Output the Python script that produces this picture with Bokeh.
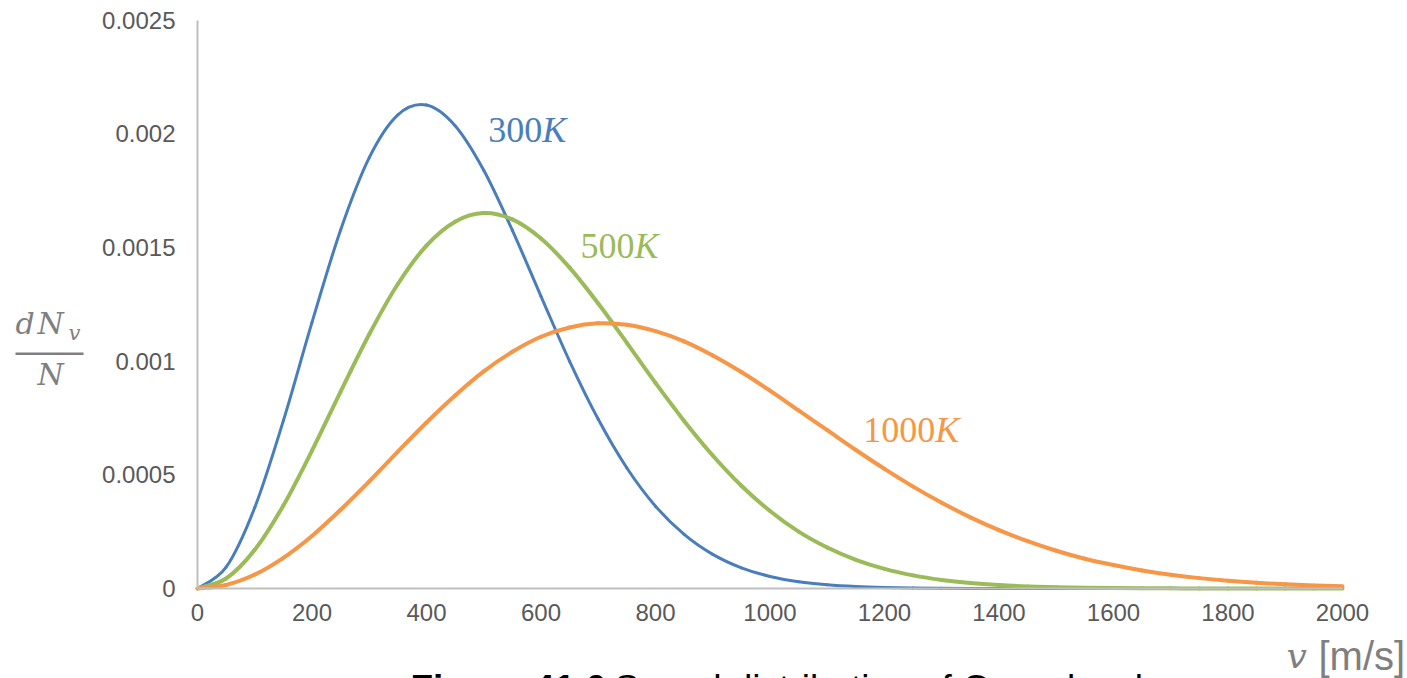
from bokeh.plotting import figure
from bokeh.models import (Range1d, FixedTicker, CustomJSTickFormatter, Label, BoxAnnotation,
                          ColumnDataSource)
from bokeh.embed import file_html
from bokeh.resources import INLINE

# speeds (m/s)
speed = [0, 50, 100, 150, 200, 250, 300, 350, 400, 450, 500, 550, 600, 650, 700, 750, 800,
         850, 900, 950, 1000, 1050, 1100, 1150, 1200, 1250, 1300, 1350, 1400, 1450, 1500,
         1550, 1600, 1650, 1700, 1750, 1800, 1850, 1900, 1950, 2000]

# dN_v / N
t300 = [0, 0.0000936, 0.000356, 0.000738, 0.001170, 0.001577, 0.001895, 0.002083, 0.002126,
        0.002035, 0.001839, 0.001575, 0.001285, 0.000999, 0.000744, 0.000530, 0.000362,
        0.000238, 0.000150, 0.0000910, 0.0000531, 0.0000299, 0.0000162, 0.0000084, 0.0000042,
        0.0000021, 0.0000010, 0.0000004, 0.0000002, 0.0000001, 0, 0, 0, 0, 0, 0, 0, 0, 0, 0, 0]
t500 = [0, 0.0000439, 0.000170, 0.000365, 0.000606, 0.000866, 0.001118, 0.001339, 0.001508,
        0.001613, 0.001651, 0.001623, 0.001539, 0.001411, 0.001253, 0.001080, 0.000904,
        0.000737, 0.000585, 0.000452, 0.000341, 0.000250, 0.000180, 0.000126, 0.0000862,
        0.0000576, 0.0000376, 0.0000240, 0.0000150, 0.0000092, 0.0000055, 0.0000032,
        0.0000018, 0.0000010, 0.0000006, 0.0000003, 0.0000002, 0.0000001, 0.0000001, 0, 0]
t1000 = [0, 0.0000156, 0.0000613, 0.000135, 0.000231, 0.000346, 0.000471, 0.000602, 0.000730,
         0.000849, 0.000955, 0.001041, 0.001107, 0.001148, 0.001166, 0.001160, 0.001132,
         0.001087, 0.001025, 0.000952, 0.000870, 0.000783, 0.000696, 0.000609, 0.000526,
         0.000448, 0.000377, 0.000313, 0.000257, 0.000208, 0.000166, 0.000131, 0.000103,
         0.0000792, 0.0000604, 0.0000456, 0.0000340, 0.0000250, 0.0000182, 0.0000132, 0.0000094]

series_names = ["300", "500", "1000"]
series_values = [t300, t500, t1000]
series_colors = ["#4a7ebb", "#9bbb59", "#f79646"]
series_widths = [3, 4, 4]
# label anchor positions (data units)
label_x = [508, 669, 1163]
label_y = [0.002018, 0.001508, 0.000698]

x_ticks = [0, 200, 400, 600, 800, 1000, 1200, 1400, 1600, 1800, 2000]
y_ticks = [0, 0.0005, 0.001, 0.0015, 0.002, 0.0025]

x_title = ["v", "[m/s]"]
y_title = ["d", "N", "v", "N"]
caption = ["Figure 41.6", "Speed distribution of O\u2082 molecules"]

gray = "#7f7f7f"

# ---- layout geometry (pixels) ----
W, H = 1405, 678
PX0, PX1 = 197, 1342        # pixel x of v = 0 and v = 2000
PY0, PY1 = 588, 19.5        # pixel y of 0 and 0.0025
kx = (PX1 - PX0) / 2000.0
ky = (PY0 - PY1) / 0.0025

# the plotting frame fills the whole canvas; axes are pinned at 0
p = figure(width=W, height=H,
           x_range=Range1d(-PX0 / kx, (W - PX0) / kx),
           y_range=Range1d(-(H - PY0) / ky, PY0 / ky),
           output_backend="svg", toolbar_location=None, min_border=0)
p.outline_line_color = None
p.grid.visible = False


def smooth_segments(xs, ys):
    """Catmull-Rom style control points (like a smoothed spreadsheet line)."""
    n = len(xs)
    d = dict(x0=[], y0=[], x1=[], y1=[], cx0=[], cy0=[], cx1=[], cy1=[])
    for i in range(n - 1):
        im = max(i - 1, 0)
        ip2 = min(i + 2, n - 1)
        d["x0"].append(xs[i]); d["y0"].append(ys[i])
        d["x1"].append(xs[i + 1]); d["y1"].append(ys[i + 1])
        d["cx0"].append(xs[i] + (xs[i + 1] - xs[im]) / 6)
        d["cy0"].append(ys[i] + (ys[i + 1] - ys[im]) / 6)
        d["cx1"].append(xs[i + 1] - (xs[ip2] - xs[i]) / 6)
        d["cy1"].append(ys[i + 1] - (ys[ip2] - ys[i]) / 6)
    return ColumnDataSource(d)


for vals, color, w in zip(series_values, series_colors, series_widths):
    src = smooth_segments(speed, vals)
    p.bezier(x0="x0", y0="y0", x1="x1", y1="y1", cx0="cx0", cy0="cy0", cx1="cx1", cy1="cy1",
             source=src, line_color=color, line_width=w, line_cap="round")

for ax in (p.xaxis[0], p.yaxis[0]):
    ax.fixed_location = 0
    ax.axis_line_color = "#bfbfbf"
    ax.axis_line_width = 2
    ax.major_tick_line_color = None
    ax.minor_tick_line_color = None
    ax.major_tick_out = 0
    ax.major_tick_in = 0
    ax.major_label_text_font = "Liberation Sans"
    ax.major_label_text_font_size = "24px"
    ax.major_label_text_color = "#595959"

p.xaxis.bounds = (0, 2000)
p.xaxis.ticker = FixedTicker(ticks=x_ticks)
p.xaxis.major_label_standoff = 15
p.yaxis.bounds = (0, 0.0025)
p.yaxis.ticker = FixedTicker(ticks=y_ticks)
p.yaxis.formatter = CustomJSTickFormatter(code="return tick.toString();")
p.yaxis.major_label_standoff = 22

serif = "Liberation Serif"
for name, color, lx, ly in zip(series_names, series_colors, label_x, label_y):
    p.add_layout(Label(x=lx, y=ly, text=name, text_font=serif, text_font_size="36px",
                       text_color=color, text_baseline="alphabetic"))
    p.add_layout(Label(x=lx, y=ly, x_offset=18 * len(name), text="K", text_font=serif,
                       text_font_size="36px", text_font_style="italic", text_color=color,
                       text_baseline="alphabetic"))


def label_px(text, px, py, font, size, style="normal", color=gray):
    """Text placed by pixel position (py measured from the top)."""
    p.add_layout(Label(x=px, y=H - py, x_units="screen", y_units="screen", text=text,
                       text_font=font, text_font_size=size, text_font_style=style,
                       text_color=color, text_baseline="alphabetic", text_align="left"))


# y-axis title: dN_v / N
label_px(y_title[0], 15, 323, "DejaVu Serif", "30px", "italic")
label_px(y_title[1], 37, 323, "DejaVu Serif", "30px", "italic")
label_px(y_title[2], 68, 332, "DejaVu Serif", "21px", "italic")
p.add_layout(BoxAnnotation(left=15, right=83, bottom=H - 354.5, top=H - 352,
                           left_units="screen", right_units="screen",
                           bottom_units="screen", top_units="screen",
                           fill_color=gray, fill_alpha=1, line_color=None))
label_px(y_title[3], 37, 374, "DejaVu Serif", "30px", "italic")

# x-axis title: v [m/s]
label_px(x_title[0], 1286, 655, "DejaVu Serif", "36px", "italic")
label_px(x_title[1], 1318, 655, "Liberation Sans", "40px")

# caption, cut off by the bottom edge as in the source
label_px(caption[0], 410, 688, "Liberation Sans", "37px", "bold", "#000000")
label_px(caption[1], 614, 688, "Liberation Sans", "37px", "normal", "#000000")

open("out.html", "w").write(file_html(p, INLINE))
